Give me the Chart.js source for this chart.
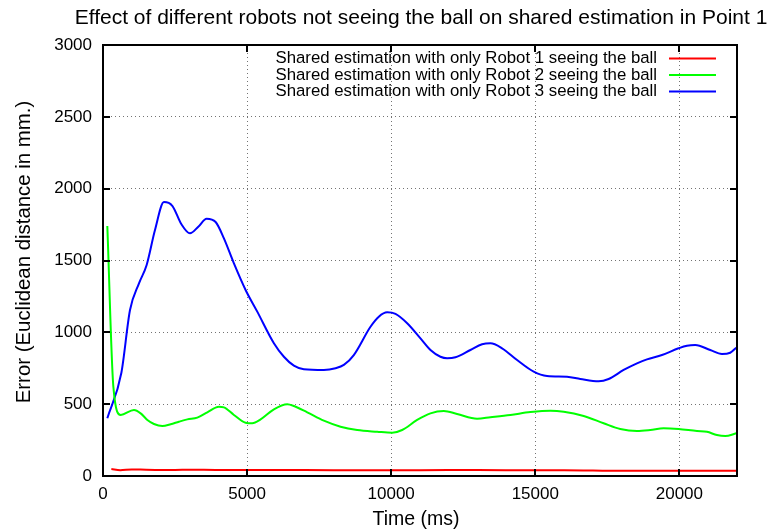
<!DOCTYPE html>
<html>
<head>
<meta charset="utf-8">
<script src="https://cdn.jsdelivr.net/npm/chart.js@4/dist/chart.umd.min.js"></script>
<style>
  html, body { margin: 0; padding: 0; background: #fff; }
  #wrap { width: 767px; height: 532px; }
</style>
</head>
<body>
<div id="wrap"><canvas id="robotChart" width="767" height="532"></canvas></div>
<script>
const chartTitle = 'Effect of different robots not seeing the ball on shared estimation in Point 1';
const xTitle = 'Time (ms)';
const yTitle = 'Error (Euclidean distance in mm.)';
const xTicks = [0, 5000, 10000, 15000, 20000];
const yTicks = [0, 500, 1000, 1500, 2000, 2500, 3000];

const seriesNames = [
    'Shared estimation with only Robot 1 seeing the ball',
    'Shared estimation with only Robot 2 seeing the ball',
    'Shared estimation with only Robot 3 seeing the ball'
];
const seriesColors = ['#ff0000', '#00ff00', '#0000ff'];

// robot 1 - almost flat near zero
const redTime  = [290, 600, 1000, 1500, 2500, 3000, 4000, 5000, 6000, 8000, 10000, 12000, 13000, 15000, 16000, 17000, 18000, 19000, 20000, 22000];
const redError = [48, 40, 46, 44, 42, 44, 42, 42, 42, 40, 40, 41, 41, 40, 40, 38, 36, 36, 36, 36];

// robot 2
const greenTime  = [150, 360, 614, 1075, 1307, 1540, 1769, 2060, 2347, 2635, 2926, 3273, 3620, 4022, 4196, 4543, 4948, 5180, 5468, 5930, 6394, 6624, 7087, 7663, 8242, 8820, 9514, 10034, 10381, 10901, 11363, 11826, 12288, 12981, 13443, 14137, 14831, 15524, 15987, 16680, 17372, 17950, 18529, 18991, 19453, 19972, 20610, 20957, 21303, 21592, 21973];
const greenError = [1740, 620, 425, 459, 436, 390, 362, 348, 360, 378, 394, 406, 443, 482, 478, 425, 371, 367, 394, 464, 499, 487, 443, 385, 343, 320, 308, 301, 320, 390, 436, 452, 432, 399, 409, 425, 445, 455, 448, 418, 367, 327, 313, 320, 332, 327, 313, 308, 285, 278, 297];

// robot 3
const blueTime  = [150, 638, 937, 1249, 1515, 1804, 2116, 2405, 2717, 3018, 3307, 3596, 3908, 4196, 4543, 4948, 5353, 5930, 6277, 6624, 6970, 7663, 8069, 8357, 8703, 9282, 9570, 9861, 10149, 10555, 11016, 11363, 11709, 11941, 12230, 12750, 13155, 13443, 13849, 14369, 14945, 15409, 16102, 16564, 17199, 17546, 18066, 18529, 18876, 19396, 19972, 20263, 20551, 21071, 21477, 21765, 21973];
const blueError = [402, 719, 1155, 1341, 1469, 1712, 1907, 1881, 1754, 1689, 1735, 1791, 1768, 1654, 1480, 1295, 1144, 924, 830, 768, 743, 738, 750, 773, 842, 1039, 1109, 1139, 1128, 1063, 958, 877, 830, 819, 826, 877, 917, 924, 889, 807, 726, 696, 691, 675, 659, 675, 738, 784, 812, 842, 889, 907, 912, 877, 849, 858, 893];

const fontFam = '"Liberation Sans", Arial, Helvetica, sans-serif';

function toPoints(xs, ys) {
    return xs.map((x, i) => ({ x: x, y: ys[i] }));
}

const seriesData = [
    toPoints(redTime, redError),
    toPoints(greenTime, greenError),
    toPoints(blueTime, blueError)
];

// gnuplot style frame, inward ticks, title and key
const gnuplotDecor = {
    id: 'gnuplotDecor',
    afterDraw(chart) {
        const { ctx, chartArea: a, scales: { x, y } } = chart;
        ctx.save();

        // frame
        ctx.strokeStyle = '#000';
        ctx.lineWidth = 2;
        ctx.strokeRect(a.left, a.top, a.right - a.left, a.bottom - a.top);

        // inward ticks on all four sides
        const tl = 7;
        ctx.beginPath();
        xTicks.forEach(v => {
            const px = Math.round(x.getPixelForValue(v));
            ctx.moveTo(px, a.bottom); ctx.lineTo(px, a.bottom - tl);
            ctx.moveTo(px, a.top); ctx.lineTo(px, a.top + tl);
        });
        yTicks.forEach(v => {
            const py = Math.round(y.getPixelForValue(v));
            ctx.moveTo(a.left, py); ctx.lineTo(a.left + tl, py);
            ctx.moveTo(a.right, py); ctx.lineTo(a.right - tl, py);
        });
        ctx.stroke();

        ctx.fillStyle = '#000';

        // title
        ctx.font = '21px ' + fontFam;
        ctx.textAlign = 'center';
        ctx.textBaseline = 'middle';
        ctx.fillText(chartTitle, 421, 18);

        // axis titles
        ctx.font = '19.5px ' + fontFam;
        ctx.fillText(xTitle, 416, 520);
        ctx.save();
        ctx.translate(24, 252);
        ctx.rotate(-Math.PI / 2);
        ctx.font = '20.4px ' + fontFam;
        ctx.fillText(yTitle, 0, 0);
        ctx.restore();

        // key
        ctx.font = '16.8px ' + fontFam;
        ctx.textAlign = 'right';
        const keyY = [58.5, 75, 91.5];
        seriesNames.forEach((name, i) => {
            ctx.fillStyle = '#000';
            ctx.fillText(name, 657, keyY[i]);
            ctx.strokeStyle = seriesColors[i];
            ctx.lineWidth = 2;
            ctx.beginPath();
            ctx.moveTo(669, keyY[i]);
            ctx.lineTo(716, keyY[i]);
            ctx.stroke();
        });

        ctx.restore();
    }
};

const ctx = document.getElementById('robotChart').getContext('2d');

new Chart(ctx, {
    type: 'line',
    data: {
        datasets: seriesNames.map((name, i) => ({
            label: name,
            data: seriesData[i],
            borderColor: seriesColors[i],
            backgroundColor: seriesColors[i],
            borderWidth: 2,
            pointRadius: 0,
            cubicInterpolationMode: 'monotone',
            fill: false
        }))
    },
    options: {
        responsive: false,
        animation: false,
        layout: { padding: { top: 45, right: 30, left: 0, bottom: 0 } },
        plugins: {
            legend: { display: false },
            title: { display: false },
            tooltip: { enabled: false }
        },
        scales: {
            x: {
                type: 'linear',
                min: 0,
                max: 22000,
                afterBuildTicks: s => { s.ticks = xTicks.map(v => ({ value: v })); },
                afterFit: s => { s.height = 56; },
                grid: { color: 'rgba(0,0,0,0.55)', lineWidth: 1, drawTicks: false },
                border: { display: false, dash: [1, 3] },
                ticks: {
                    color: '#000',
                    padding: 8,
                    maxRotation: 0,
                    font: { family: fontFam, size: 17 },
                    callback: v => String(v)
                }
            },
            y: {
                type: 'linear',
                min: 0,
                max: 3000,
                afterBuildTicks: s => { s.ticks = yTicks.map(v => ({ value: v })); },
                afterFit: s => { s.width = 103; },
                grid: { color: 'rgba(0,0,0,0.55)', lineWidth: 1, drawTicks: false },
                border: { display: false, dash: [1, 3] },
                ticks: {
                    color: '#000',
                    padding: 11,
                    font: { family: fontFam, size: 17 },
                    callback: v => String(v)
                }
            }
        }
    },
    plugins: [gnuplotDecor]
});
</script>
</body>
</html>
